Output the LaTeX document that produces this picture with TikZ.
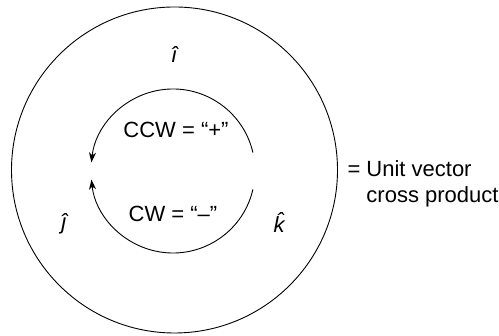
\documentclass[tikz,border=0pt]{standalone}
\usepackage{fontspec}
\setmainfont{Liberation Sans}
\usetikzlibrary{arrows.meta,positioning}

\tikzset{
  lbl/.style={inner sep=0pt, font=\fontsize{22}{26}\selectfont},
  turn/.style={line width=0.9pt, -{Stealth[length=10pt,width=7pt,inset=3pt]}},
}

\begin{document}
\begin{tikzpicture}[x=1pt,y=1pt,line width=0.9pt]
\useasboundingbox (0,0) rectangle (499,336);

% outer ring
\coordinate (o) at (174.5,166);
\draw (o) circle (163);

% the two turns
\coordinate (c) at (173,165);
\draw[turn] ([shift={(13:82)}]c) arc (13:174:82);
\draw[turn] ([shift={(-13:82)}]c) arc (-13:-174:82);

% unit vectors
\node[lbl, anchor=base] (ihat) at (175,273) {\textit{\^{\i}}};
\node[lbl, anchor=base] (jhat) at (65,106) {\textit{\^{\j}}};
\node[lbl, anchor=base] (khat) at (279,103) {\textit{k\llap{\raisebox{0.2em}{ˆ}\kern0.03em}}};

% senses
\node[lbl, anchor=base] (ccw) at (176,198) {CCW = “+”};
\node[lbl, anchor=base] (cw) at (173,114) {CW = “–”};

% legend
\node[lbl, anchor=base west] (unit) at (366,159) {Unit vector};
\node[lbl, anchor=base east] (eqsign) at ([xshift=-5pt]unit.base west) {=};
\node[lbl, anchor=base west] (cross) at ([yshift=-26pt]unit.base west) {cross product};
\end{tikzpicture}
\end{document}
